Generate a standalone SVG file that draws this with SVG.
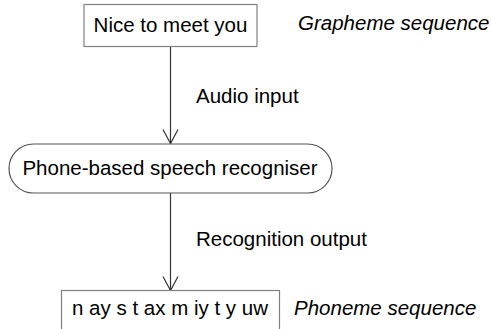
<svg xmlns="http://www.w3.org/2000/svg" width="491" height="329" viewBox="0 0 491 329">
<style>
text{font-family:"Liberation Sans",Arial,sans-serif;font-size:20.5px;fill:#000}
.c{text-anchor:middle}
.i{font-style:italic}
.box{fill:#fff;stroke:#808080;stroke-width:1.2}
.pill{fill:#fff;stroke:#555;stroke-width:1.2}
.ln{fill:none;stroke:#333;stroke-width:1.2}
</style>
<rect width="491" height="329" fill="#fff"/>
<g id="connectors">
<line class="ln" x1="170.5" y1="46.5" x2="170.5" y2="143.5"/>
<polyline class="ln" points="163,129.5 170.5,143.5 178,129.5"/>
<text x="196" y="103">Audio input</text>
<line class="ln" x1="170.5" y1="193" x2="170.5" y2="290.5"/>
<polyline class="ln" points="163,276.5 170.5,290.5 178,276.5"/>
<text x="196" y="246">Recognition output</text>
</g>
<g id="grapheme">
<rect class="box" x="84" y="4.5" width="173" height="42"/>
<text class="c" x="170.5" y="32">Nice to meet you</text>
</g>
<text class="i" x="298" y="30">Grapheme sequence</text>
<g id="recogniser">
<rect class="pill" x="9" y="144" width="323" height="49" rx="24.5" ry="24.5"/>
<text class="c" x="170" y="175">Phone-based speech recogniser</text>
</g>
<g id="phoneme">
<rect class="box" x="61.5" y="290.5" width="218" height="42"/>
<text class="c" x="170" y="315">n ay s t ax m iy t y uw</text>
</g>
<text class="i" x="294" y="315">Phoneme sequence</text>
</svg>
